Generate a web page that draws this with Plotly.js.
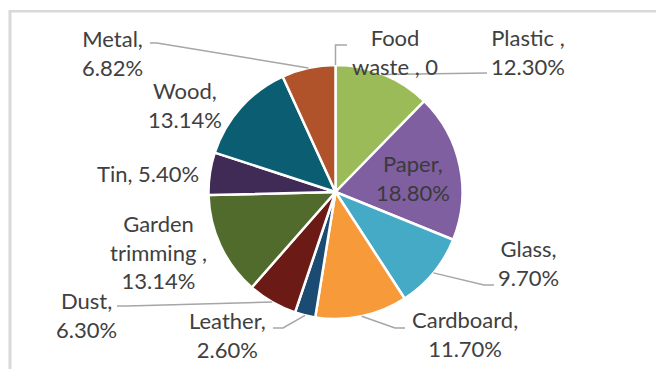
<!DOCTYPE html>
<html>
<head>
<meta charset="utf-8">
<script src="https://cdn.plot.ly/plotly-3.0.1.min.js"></script>
<style>
  html, body { margin: 0; padding: 0; background: #ffffff; }
  #chart { width: 657px; height: 369px; }
</style>
</head>
<body>
<div id="chart"></div>
<script>
// ---- data ----
const categories = ['Food waste', 'Plastic', 'Paper', 'Glass', 'Cardboard', 'Leather', 'Dust', 'Garden trimming', 'Tin', 'Wood', 'Metal'];
const shares = [0, 12.30, 18.80, 9.70, 11.70, 2.60, 6.30, 13.14, 5.40, 13.14, 6.82];
const labelTexts = ['Food<br>waste , 0', 'Plastic ,<br>12.30%', 'Paper,<br>18.80%', 'Glass,<br>9.70%', 'Cardboard,<br>11.70%', 'Leather,<br>2.60%', 'Dust,<br>6.30%', 'Garden<br>trimming ,<br>13.14%', 'Tin, 5.40%', 'Wood,<br>13.14%', 'Metal,<br>6.82%'];
const sliceColors = ['#E46C0A', '#9BBB59', '#7F5FA0', '#45AAC6', '#F79A3A', '#1B4A72', '#6C1A15', '#516B2C', '#402B57', '#0B5E72', '#B0532A'];

// ---- layout helpers (pixels) ----
const W = 657, H = 369;
const cx = 335.5, cy = 192, R = 127;
const px = x => x / W;
const py = y => 1 - y / H;

// label placement (pixel centres) and leader-line elbows near the label
const labelPos = {
  'Food waste':      {x: 395, y: 52, line: [[347, 45], [335.5, 45]]},
  'Plastic':         {x: 528, y: 52, line: [[487, 73]]},
  'Paper':           {x: 413, y: 178, inside: true},
  'Glass':           {x: 528, y: 263, line: [[494, 285], [484, 285]]},
  'Cardboard':       {x: 465, y: 334, line: [[405, 328], [395, 328]]},
  'Leather':         {x: 227, y: 335, line: [[273, 328], [283, 328]]},
  'Dust':            {x: 86,  y: 315, line: [[117, 306], [127, 306]]},
  'Garden trimming': {x: 158, y: 252},
  'Tin':             {x: 148, y: 173},
  'Wood':            {x: 185, y: 105},
  'Metal':           {x: 112, y: 53, line: [[150, 43], [157, 43]]}
};

const total = shares.reduce((a, b) => a + b, 0);
let cum = 0;
const annotations = [];
const shapes = [];
const fontFam = 'Lato, "Open Sans", sans-serif';

categories.forEach((c, i) => {
  const mid = (cum + shares[i] / 2) / total * 2 * Math.PI;
  cum += shares[i];
  const ax = cx + R * Math.sin(mid);
  const ay = cy - R * Math.cos(mid);
  const p = labelPos[c];
  annotations.push({
    xref: 'paper', yref: 'paper', x: px(p.x), y: py(p.y),
    xanchor: 'center', yanchor: 'middle', showarrow: false, align: 'center',
    text: labelTexts[i],
    font: {family: fontFam, size: 22, color: p.inside ? '#3a3a3a' : '#404040'}
  });
  if (p.line) {
    const pts = p.line.concat([[ax, ay]]);
    const path = pts.map((q, k) => (k ? 'L' : 'M') + px(q[0]).toFixed(5) + ',' + py(q[1]).toFixed(5)).join(' ');
    shapes.push({type: 'path', xref: 'paper', yref: 'paper', path: path,
      line: {color: '#A6A6A6', width: 1.5}});
  }
});

// chart frame (top and left edges visible)
shapes.push({type: 'line', xref: 'paper', yref: 'paper', x0: px(10), y0: py(11.2), x1: px(656), y1: py(11.2), line: {color: '#D9D9D9', width: 2.5}});
shapes.push({type: 'line', xref: 'paper', yref: 'paper', x0: px(10), y0: py(10), x1: px(10), y1: py(369), line: {color: '#D9D9D9', width: 3}});

const trace = {
  type: 'pie',
  labels: categories,
  values: shares,
  sort: false,
  direction: 'clockwise',
  rotation: 0,
  textinfo: 'none',
  hoverinfo: 'label+percent',
  marker: {colors: sliceColors, line: {color: '#FFFFFF', width: 2.5}},
  domain: {x: [px(cx - R), px(cx + R)], y: [py(cy + R), py(cy - R)]}
};

const layout = {
  width: W, height: H,
  margin: {l: 0, r: 0, t: 0, b: 0},
  showlegend: false,
  paper_bgcolor: '#FFFFFF',
  annotations: annotations,
  shapes: shapes
};

Plotly.newPlot('chart', [trace], layout, {displayModeBar: false, staticPlot: true});
</script>
</body>
</html>
